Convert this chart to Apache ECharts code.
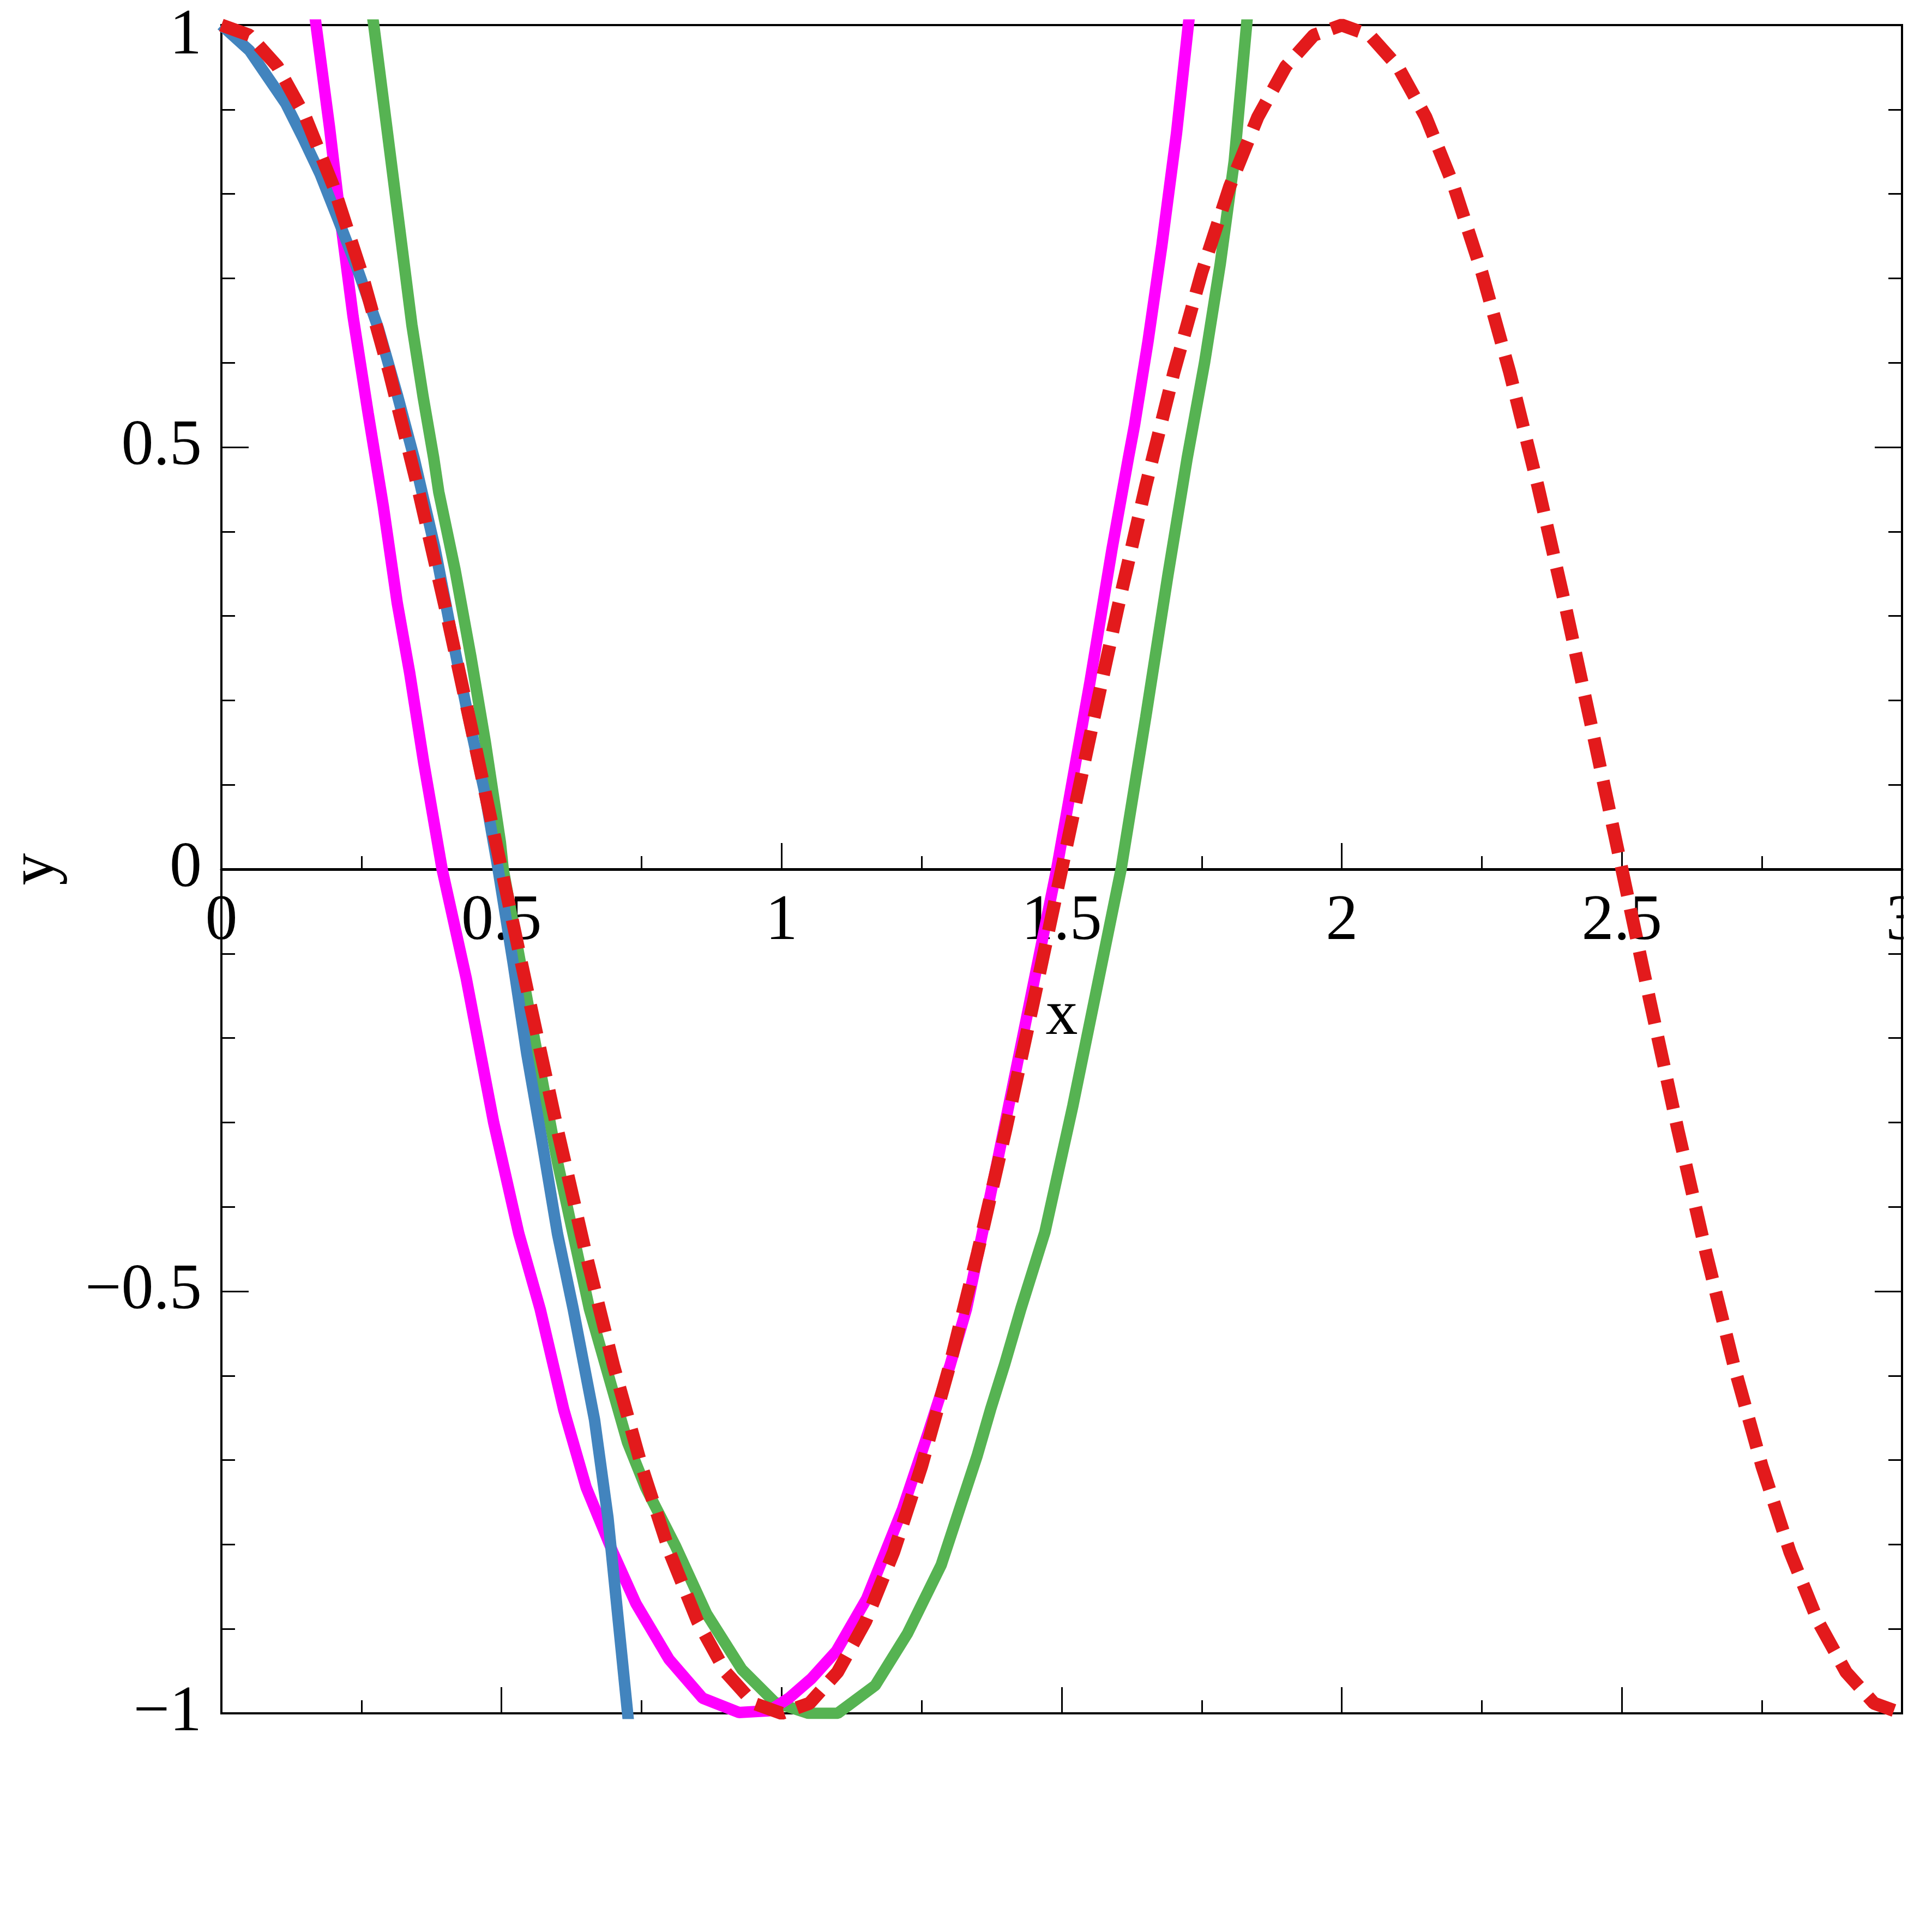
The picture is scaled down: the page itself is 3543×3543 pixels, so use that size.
<!DOCTYPE html>
<html>
<head>
<meta charset="utf-8">
<script src="https://cdn.jsdelivr.net/npm/echarts@6/dist/echarts.min.js"></script>
<style>
  html, body { margin: 0; padding: 0; background: #fff; }
  #chart { width: 3543px; height: 3543px; }
</style>
</head>
<body>
<div id="chart"></div>
<script>
// ---------- data ----------
const xTicks = [0, 0.5, 1, 1.5, 2, 2.5, 3];
const yTicks = [-1, -0.5, 0, 0.5, 1];

// red dashed curve (sampled every 0.05 from 0 to 3)
const redX = [0,0.05,0.1,0.15,0.2,0.25,0.3,0.35,0.4,0.45,0.5,0.55,0.6,0.65,0.7,0.75,0.8,0.85,0.9,0.95,
  1,1.05,1.1,1.15,1.2,1.25,1.3,1.35,1.4,1.45,1.5,1.55,1.6,1.65,1.7,1.75,1.8,1.85,1.9,1.95,
  2,2.05,2.1,2.15,2.2,2.25,2.3,2.35,2.4,2.45,2.5,2.55,2.6,2.65,2.7,2.75,2.8,2.85,2.9,2.95,3];
const redY = [1,0.988,0.951,0.891,0.809,0.707,0.588,0.454,0.309,0.156,0,-0.156,-0.309,-0.454,-0.588,-0.707,-0.809,-0.891,-0.951,-0.988,
  -1,-0.988,-0.951,-0.891,-0.809,-0.707,-0.588,-0.454,-0.309,-0.156,0,0.156,0.309,0.454,0.588,0.707,0.809,0.891,0.951,0.988,
  1,0.988,0.951,0.891,0.809,0.707,0.588,0.454,0.309,0.156,0,-0.156,-0.309,-0.454,-0.588,-0.707,-0.809,-0.891,-0.951,-0.988,-1];

// blue curve
const blueX = [0,0.05,0.115,0.146,0.176,0.21,0.245,0.28,0.314,0.344,0.381,0.41,0.44,0.47,0.494,0.521,0.545,0.571,0.6,0.628,0.666,0.69,0.725,0.745];
const blueY = [1,0.97,0.907,0.866,0.824,0.767,0.707,0.641,0.562,0.487,0.381,0.282,0.183,0.091,0,-0.112,-0.218,-0.317,-0.432,-0.521,-0.652,-0.768,-0.999,-1.13];

// magenta curve
const magX = [0.15,0.169,0.193,0.213,0.235,0.262,0.289,0.314,0.336,0.361,0.394,0.437,0.486,0.531,0.569,0.611,0.651,0.7,0.74,0.799,0.859,0.924,0.978,1.013,1.053,1.098,1.152,1.216,1.261,1.301,1.33,1.384,1.43,1.491,1.55,1.59,1.619,1.63,1.654,1.679,1.705,1.726,1.75];
const magY = [1.1,1,0.879,0.767,0.655,0.54,0.43,0.315,0.233,0.127,0,-0.129,-0.3,-0.432,-0.521,-0.64,-0.732,-0.811,-0.87,-0.936,-0.982,-0.999,-0.997,-0.982,-0.959,-0.926,-0.864,-0.758,-0.669,-0.587,-0.521,-0.35,-0.2,0,0.22,0.38,0.487,0.526,0.625,0.74,0.872,1,1.13];

// green curve
const greenX = [0.25,0.272,0.295,0.318,0.34,0.36,0.379,0.388,0.417,0.445,0.471,0.498,0.503,0.55,0.6,0.657,0.725,0.757,0.81,0.866,0.929,0.988,1.048,1.1,1.167,1.225,1.285,1.349,1.373,1.398,1.427,1.47,1.52,1.56,1.606,1.65,1.69,1.724,1.755,1.783,1.808,1.83,1.85];
const greenY = [1.1,1,0.88,0.76,0.645,0.56,0.487,0.447,0.355,0.253,0.151,0.032,0,-0.17,-0.347,-0.521,-0.679,-0.732,-0.801,-0.882,-0.948,-0.987,-1,-1,-0.967,-0.905,-0.824,-0.695,-0.64,-0.587,-0.521,-0.43,-0.28,-0.15,0,0.18,0.35,0.487,0.6,0.717,0.839,1,1.15];

const pairs = (xs, ys) => xs.map((x, i) => [x, ys[i]]);

// ---------- chart ----------
const FONT = '"Liberation Serif", "Times New Roman", serif';
const FS = 118;
const fmt = v => (v < 0 ? '\u2212' + Math.abs(v) : String(v));

const GRID_TOP = 46, GRID_H = 3096;
const tickLine = { color: '#000', width: 3 };
const chart = echarts.init(document.getElementById('chart'), null, { renderer: 'canvas' });

const option = {
  animation: false,
  backgroundColor: '#ffffff',
  grid: { left: 402, top: GRID_TOP, width: 3086, height: GRID_H, show: true, borderColor: '#000', borderWidth: 4, backgroundColor: 'transparent' },
  xAxis: [
    {
      // axis drawn through y = 0 (middle of the plot)
      type: 'value', min: xTicks[0], max: xTicks[xTicks.length - 1], interval: 0.5, position: 'bottom',
      offset: -GRID_H / 2,
      axisLine: { show: true, onZero: false, lineStyle: { color: '#000', width: 5 } },
      axisTick: { show: true, inside: true, length: 48, lineStyle: tickLine },
      minorTick: { show: true, splitNumber: 2, length: 24, lineStyle: tickLine },
      splitLine: { show: false },
      axisLabel: { show: true, margin: 38, fontFamily: FONT, fontSize: FS, color: '#000', formatter: fmt },
      name: 'x', nameLocation: 'middle', nameGap: 212,
      nameTextStyle: { fontFamily: FONT, fontSize: FS, color: '#000' }
    },
    {
      type: 'value', min: xTicks[0], max: xTicks[xTicks.length - 1], interval: 0.5, position: 'bottom',
      axisLine: { show: true, onZero: false, lineStyle: { color: '#000', width: 4 } },
      axisTick: { show: true, inside: true, length: 48, lineStyle: tickLine },
      minorTick: { show: true, splitNumber: 2, length: 24, lineStyle: tickLine },
      splitLine: { show: false },
      axisLabel: { show: false }
    }
  ],
  yAxis: [
    {
      type: 'value', min: yTicks[0], max: yTicks[yTicks.length - 1], interval: 0.5, position: 'left',
      axisLine: { show: true, onZero: false, lineStyle: { color: '#000', width: 4 } },
      axisTick: { show: true, inside: true, length: 50, lineStyle: tickLine },
      minorTick: { show: true, splitNumber: 5, length: 25, lineStyle: tickLine },
      splitLine: { show: false },
      axisLabel: {
        show: true, margin: 36, fontFamily: FONT, fontSize: FS, color: '#000',
        formatter: v => (v === 1 ? '{t|1}' : fmt(v)),
        rich: { t: { fontFamily: FONT, fontSize: FS, color: '#000', padding: [42, 0, 0, 0] } }
      },
      name: 'y', nameLocation: 'middle', nameGap: 280,
      nameTextStyle: { fontFamily: FONT, fontSize: FS, color: '#000' }
    },
    {
      type: 'value', min: yTicks[0], max: yTicks[yTicks.length - 1], interval: 0.5, position: 'right',
      axisLine: { show: true, onZero: false, lineStyle: { color: '#000', width: 4 } },
      axisTick: { show: true, inside: true, length: 50, lineStyle: tickLine },
      minorTick: { show: true, splitNumber: 5, length: 25, lineStyle: tickLine },
      splitLine: { show: false },
      axisLabel: { show: false }
    }
  ],
  graphic: [
    { type: 'rect', z: 100, shape: { x: 3491, y: 1610, width: 52, height: 170 }, style: { fill: '#ffffff' } }
  ],
  series: [
    { type: 'line', name: 'green', data: pairs(greenX, greenY), showSymbol: false, symbol: 'none', clip: true, z: 2,
      lineStyle: { color: '#56B352', width: 21 } },
    { type: 'line', name: 'magenta', data: pairs(magX, magY), showSymbol: false, symbol: 'none', clip: true, z: 3,
      lineStyle: { color: '#FF00FF', width: 21 } },
    { type: 'line', name: 'blue', data: pairs(blueX, blueY), showSymbol: false, symbol: 'none', clip: true, z: 4,
      lineStyle: { color: '#4284BE', width: 21 } },
    { type: 'line', name: 'red', data: pairs(redX, redY), showSymbol: false, symbol: 'none', clip: true, z: 5,
      lineStyle: { color: '#E31A1C', width: 24, type: [55, 25], cap: 'butt' } }
  ]
};
chart.setOption(option);
</script>
</body>
</html>
